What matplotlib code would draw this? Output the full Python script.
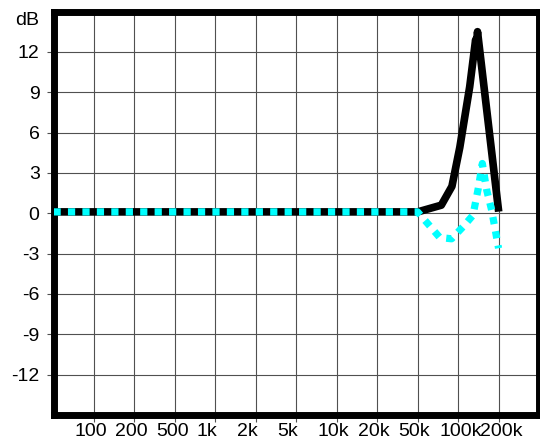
#!/usr/bin/env python3
"""
Frequency response chart (dB vs frequency), evenly spaced frequency labels
"""

import numpy as np
import matplotlib
matplotlib.use('Agg')
import matplotlib.pyplot as plt
from matplotlib.transforms import ScaledTranslation

# frequency labels, drawn evenly spaced on the chart
tick_freqs = [100, 200, 500, 1000, 2000, 5000, 10000, 20000, 50000, 100000, 200000]
tick_labels = ['100', '200', '500', '1k', '2k', '5k', '10k', '20k', '50k', '100k', '200k']
db_ticks = [-12, -9, -6, -3, 0, 3, 6, 9, 12]

# black solid response (Hz, dB)
freq_black = [50, 50000, 75000, 90000, 103000, 122000, 135000, 137000, 139500, 199000]
db_black = [0.1, 0.1, 0.6, 2.0, 4.9, 9.4, 12.9, 12.6, 13.5, 0.4]

# cyan dotted response (Hz, dB)
freq_cyan = [50, 50000, 73000, 89500, 109000, 129000, 141000, 151500, 163500, 178000, 200000]
db_cyan = [0.1, 0.1, -1.8, -1.9, -1.0, -0.15, 1.8, 3.7, 1.7, 0.2, -2.6]

# axis anchors: each label one step apart, one extra step on each side
anchor_freqs = [50] + tick_freqs + [500000]
anchor_log = np.log10(anchor_freqs)
anchor_pos = np.arange(len(anchor_freqs), dtype=float)


def forward(f):
    f = np.clip(np.asarray(f, dtype=float), 1e-9, None)
    return np.interp(np.log10(f), anchor_log, anchor_pos)


def inverse(x):
    return 10 ** np.interp(np.asarray(x, dtype=float), anchor_pos, anchor_log)


plt.rcParams['font.family'] = ['Liberation Sans', 'DejaVu Sans']

fig = plt.figure(figsize=(5.4, 4.46), dpi=100)
W, H = 540, 446
ax = fig.add_axes([53.5 / W, 1 - 415 / H, (539 - 53.5) / W, (415 - 11.5) / H])

ax.set_xscale('function', functions=(forward, inverse))
ax.set_xlim(50, 500000)
ax.set_ylim(-15, 15)

ax.plot(freq_black, db_black, color='black', linewidth=5.5, zorder=2)
ax.plot(freq_cyan, db_cyan, color='#00ffff', linewidth=5.2,
        linestyle=(0, (1, 1)), zorder=3)

ax.set_xticks(tick_freqs)
ax.set_xticklabels(tick_labels, fontsize=14)
ax.set_yticks(db_ticks)
ax.set_yticklabels([str(v) for v in db_ticks], fontsize=14)
ax.xaxis.set_minor_locator(plt.NullLocator())

ax.grid(True, color='#505050', linewidth=0.8)
ax.set_axisbelow(True)
ax.tick_params(axis='both', direction='out', length=5, width=0.8, color='#505050')
ax.tick_params(axis='x', pad=0.5)
ax.tick_params(axis='y', pad=5)

# x labels sit left-aligned a bit before their grid line
shift = ScaledTranslation(-19 / 100, 0, fig.dpi_scale_trans)
for lab in ax.get_xticklabels():
    lab.set_horizontalalignment('left')
    lab.set_transform(lab.get_transform() + shift)

for sp in ax.spines.values():
    sp.set_linewidth(5)
    sp.set_color('black')

fig.text(39 / W, 1 - 25 / H, 'dB', ha='right', va='baseline', fontsize=14)

fig.savefig('out.png', dpi=100)
